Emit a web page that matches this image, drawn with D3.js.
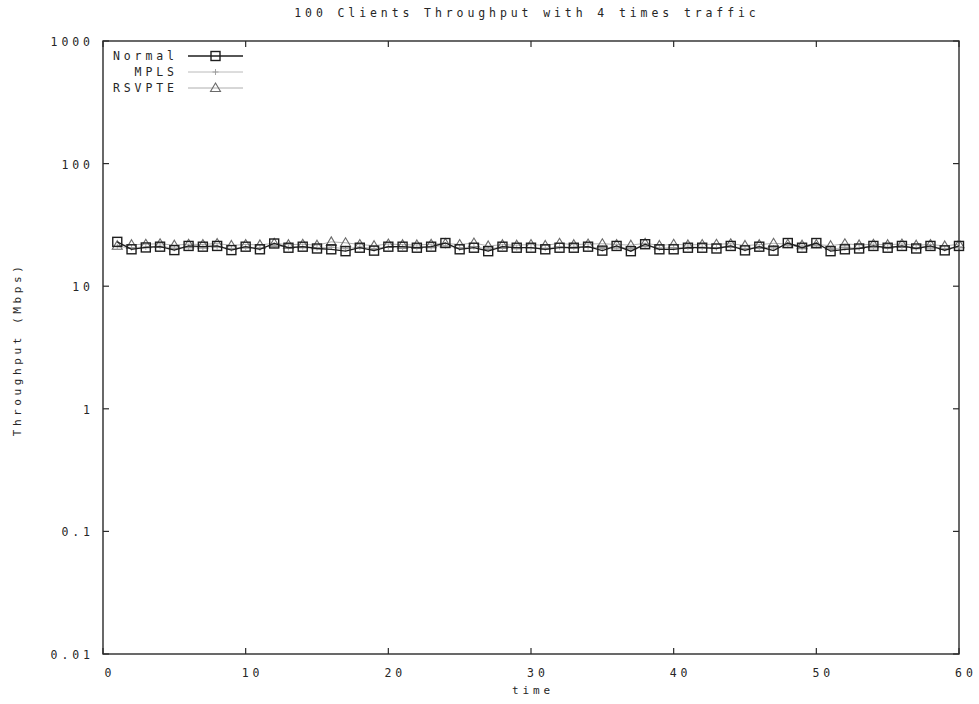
<!DOCTYPE html>
<html>
<head>
<meta charset="utf-8">
<script src="https://cdn.jsdelivr.net/npm/d3@7"></script>
<style>
  html, body { margin: 0; padding: 0; background: #fff; }
  svg text { font-family: "DejaVu Sans Mono", "Liberation Mono", monospace; font-size: 11.5px; fill: #262626; letter-spacing: 3.9px; }
</style>
</head>
<body>
<svg id="chart" width="979" height="704"></svg>
<script>
// Throughput per second for each routing mode (Mbps), t = 1..60
const times = d3.range(1, 61);
const normal = [
  23, 20, 20.7, 21, 19.7, 21.3, 21, 21.3, 19.7, 21,
  20, 22.3, 20.6, 21, 20.3, 20, 19.3, 20.6, 19.5, 21,
  21, 20.6, 21, 22.5, 20, 20.6, 19.3, 21, 20.6, 20.6,
  20, 20.6, 20.6, 21, 19.5, 21.3, 19.3, 22, 20, 20,
  20.6, 20.6, 20.3, 21.3, 19.6, 21, 19.5, 22.5, 20.6, 22.5,
  19.3, 20, 20.3, 21.3, 20.6, 21.3, 20.3, 21.3, 19.6, 21.3
];
const mpls = [
  21.0, 20.6, 20.9, 21.2, 20.4, 21.0, 20.8, 21.1, 20.3, 20.9,
  20.5, 21.6, 20.7, 21.0, 20.6, 20.8, 20.2, 20.9, 20.3, 21.0,
  20.8, 20.7, 21.0, 21.4, 20.5, 21.0, 20.1, 20.9, 20.6, 20.7,
  20.4, 21.0, 20.8, 21.0, 20.3, 21.1, 20.2, 21.4, 20.5, 20.6,
  20.8, 20.8, 20.6, 21.2, 20.3, 20.9, 20.5, 21.6, 20.7, 21.5,
  20.2, 20.5, 20.6, 21.1, 20.7, 21.1, 20.5, 21.1, 20.3, 21.0
];
const rsvpte = [
  21.4, 21.8, 22.0, 22.2, 21.6, 22.0, 21.9, 22.3, 21.5, 21.9,
  21.7, 22.4, 21.8, 22.0, 21.6, 23.0, 22.6, 21.9, 21.4, 22.1,
  21.8, 21.7, 22.0, 22.3, 21.9, 22.5, 21.3, 21.8, 21.6, 21.9,
  21.5, 22.4, 21.8, 22.1, 22.2, 21.9, 21.6, 22.4, 21.5, 22.0,
  21.7, 21.9, 22.0, 22.2, 21.5, 21.8, 22.4, 22.0, 21.6, 21.9,
  21.4, 22.2, 21.7, 22.0, 21.8, 22.1, 21.6, 21.9, 21.3, 22.0
];
const seriesNames = ["Normal", "MPLS", "RSVPTE"];
const xTicks = [0, 10, 20, 30, 40, 50, 60];
const yTicks = [0.01, 0.1, 1, 10, 100, 1000];
const yTickLabels = ["0.01", "0.1", "1", "10", "100", "1000"];
const titleText = "100 Clients Throughput with 4 times traffic";
const xLabel = "time";
const yLabel = "Throughput (Mbps)";

const svg = d3.select("#chart");
const m = { left: 103, right: 959, top: 41, bottom: 654 };
const LS = 3.9; // letter spacing, trailing gap compensation

const x = d3.scaleLinear().domain([0, 60]).range([m.left, m.right]);
const y = d3.scaleLog().domain([0.01, 1000]).range([m.bottom, m.top]);

// title
svg.append("text").attr("x", (m.left + m.right) / 2 - 6 + LS / 2).attr("y", 17)
  .attr("text-anchor", "middle").text(titleText);

// frame
svg.append("rect").attr("x", m.left).attr("y", m.top)
  .attr("width", m.right - m.left).attr("height", m.bottom - m.top)
  .attr("fill", "none").attr("stroke", "#2a2a2a").attr("stroke-width", 1.4);

const tickLen = 6;
const axisColor = "#2a2a2a";

// x ticks (bottom and top, inward)
xTicks.forEach(v => {
  svg.append("line").attr("x1", x(v)).attr("x2", x(v))
    .attr("y1", m.bottom).attr("y2", m.bottom - tickLen).attr("stroke", axisColor).attr("stroke-width", 1.2);
  svg.append("line").attr("x1", x(v)).attr("x2", x(v))
    .attr("y1", m.top).attr("y2", m.top + tickLen).attr("stroke", axisColor).attr("stroke-width", 1.2);
  svg.append("text").attr("x", x(v) + 5 + LS / 2).attr("y", 677)
    .attr("text-anchor", "middle").text(String(v));
});

// y ticks (left and right, inward)
yTicks.forEach((v, i) => {
  svg.append("line").attr("x1", m.left).attr("x2", m.left + tickLen)
    .attr("y1", y(v)).attr("y2", y(v)).attr("stroke", axisColor).attr("stroke-width", 1.2);
  svg.append("line").attr("x1", m.right).attr("x2", m.right - tickLen)
    .attr("y1", y(v)).attr("y2", y(v)).attr("stroke", axisColor).attr("stroke-width", 1.2);
  svg.append("text").attr("x", 90 + LS).attr("y", y(v) + 5)
    .attr("text-anchor", "end").text(yTickLabels[i]);
});

// axis titles
svg.append("text").attr("x", (m.left + m.right) / 2 + LS / 2).attr("y", 694)
  .attr("text-anchor", "middle").style("font-size", "11px").text(xLabel);
svg.append("text")
  .attr("transform", `translate(21, ${(m.top + m.bottom) / 2 + LS / 2}) rotate(-90)`)
  .attr("text-anchor", "middle").style("font-size", "11px").style("letter-spacing", "3.6px").text(yLabel);

// series definitions
const styles = [
  { name: seriesNames[0], values: normal, stroke: "#1e1e1e", width: 1.3, marker: "square", mstroke: "#1e1e1e", mwidth: 1.4 },
  { name: seriesNames[1], values: mpls, stroke: "#a8a8a8", width: 0.8, marker: "plus", mstroke: "#9a9a9a", mwidth: 0.9 },
  { name: seriesNames[2], values: rsvpte, stroke: "#9a9a9a", width: 0.8, marker: "triangle", mstroke: "#6a6a6a", mwidth: 1.1 }
];

function drawMarker(g, kind, cx, cy, s) {
  if (kind === "square") {
    g.append("rect").attr("x", cx - 4.5).attr("y", cy - 4.5).attr("width", 9).attr("height", 9)
      .attr("fill", "none").attr("stroke", s.mstroke).attr("stroke-width", s.mwidth);
  } else if (kind === "plus") {
    g.append("path").attr("d", `M${cx - 3},${cy}H${cx + 3}M${cx},${cy - 3}V${cy + 3}`)
      .attr("stroke", s.mstroke).attr("stroke-width", s.mwidth).attr("fill", "none");
  } else {
    g.append("path").attr("d", `M${cx},${cy - 5}L${cx + 5},${cy + 3.5}L${cx - 5},${cy + 3.5}Z`)
      .attr("fill", "none").attr("stroke", s.mstroke).attr("stroke-width", s.mwidth);
  }
}

const line = d3.line().x((d, i) => x(times[i])).y(d => y(d));

// gray series first, Normal on top
[styles[2], styles[1], styles[0]].forEach(s => {
  const g = svg.append("g");
  g.append("path").datum(s.values).attr("d", line)
    .attr("fill", "none").attr("stroke", s.stroke).attr("stroke-width", s.width);
  s.values.forEach((v, i) => drawMarker(g, s.marker, x(times[i]), y(v), s));
});

// legend
const legY = [56, 72, 88];
styles.forEach((s, i) => {
  const g = svg.append("g");
  g.append("text").attr("x", 174 + LS).attr("y", legY[i] + 4).attr("text-anchor", "end").text(s.name);
  g.append("line").attr("x1", 188).attr("x2", 243).attr("y1", legY[i]).attr("y2", legY[i])
    .attr("stroke", s.stroke).attr("stroke-width", s.width);
  drawMarker(g, s.marker, 215.5, legY[i], s);
});
</script>
</body>
</html>
